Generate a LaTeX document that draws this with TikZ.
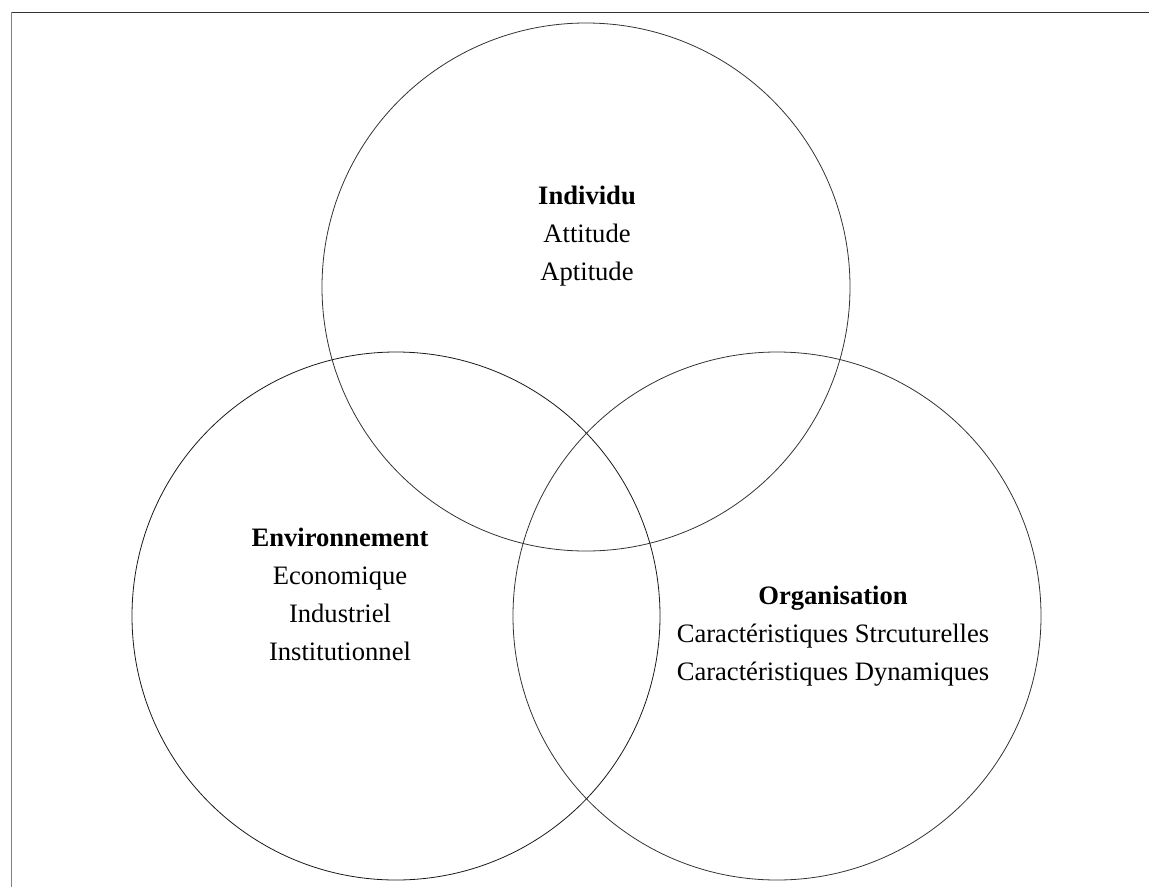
\documentclass[tikz,border=0pt]{standalone}
\usepackage{fontspec}
\setmainfont{Liberation Serif}
\begin{document}
\begin{tikzpicture}[x=1pt,y=-1pt,
  ring/.style={circle,draw=black!80,line width=0.8pt,minimum size=528pt,inner sep=0pt},
  label/.style={align=center,inner sep=0pt,anchor=base,font=\fontsize{26.6}{38}\selectfont}]
\useasboundingbox (0,0) rectangle (1149,887);
\draw[black!80,line width=1pt] (11,12) -- (1149,12);
\draw[black!50,line width=1pt] (11,12) -- (11,887);
\node[ring] (ind) at (586,287) {};
\node[ring,draw=black!90] (env) at (396,616) {};
\node[ring] (org) at (777,616) {};
\node[label] (tind) at (587,280) {\textbf{Individu}\\Attitude\\Aptitude};
\node[label] (tenv) at (340,660) {\textbf{Environnement}\\Economique\\Industriel\\Institutionnel};
\node[label] (torg) at (833,680) {\textbf{Organisation}\\Caractéristiques Strcuturelles\\Caractéristiques Dynamiques};
\end{tikzpicture}
\end{document}
